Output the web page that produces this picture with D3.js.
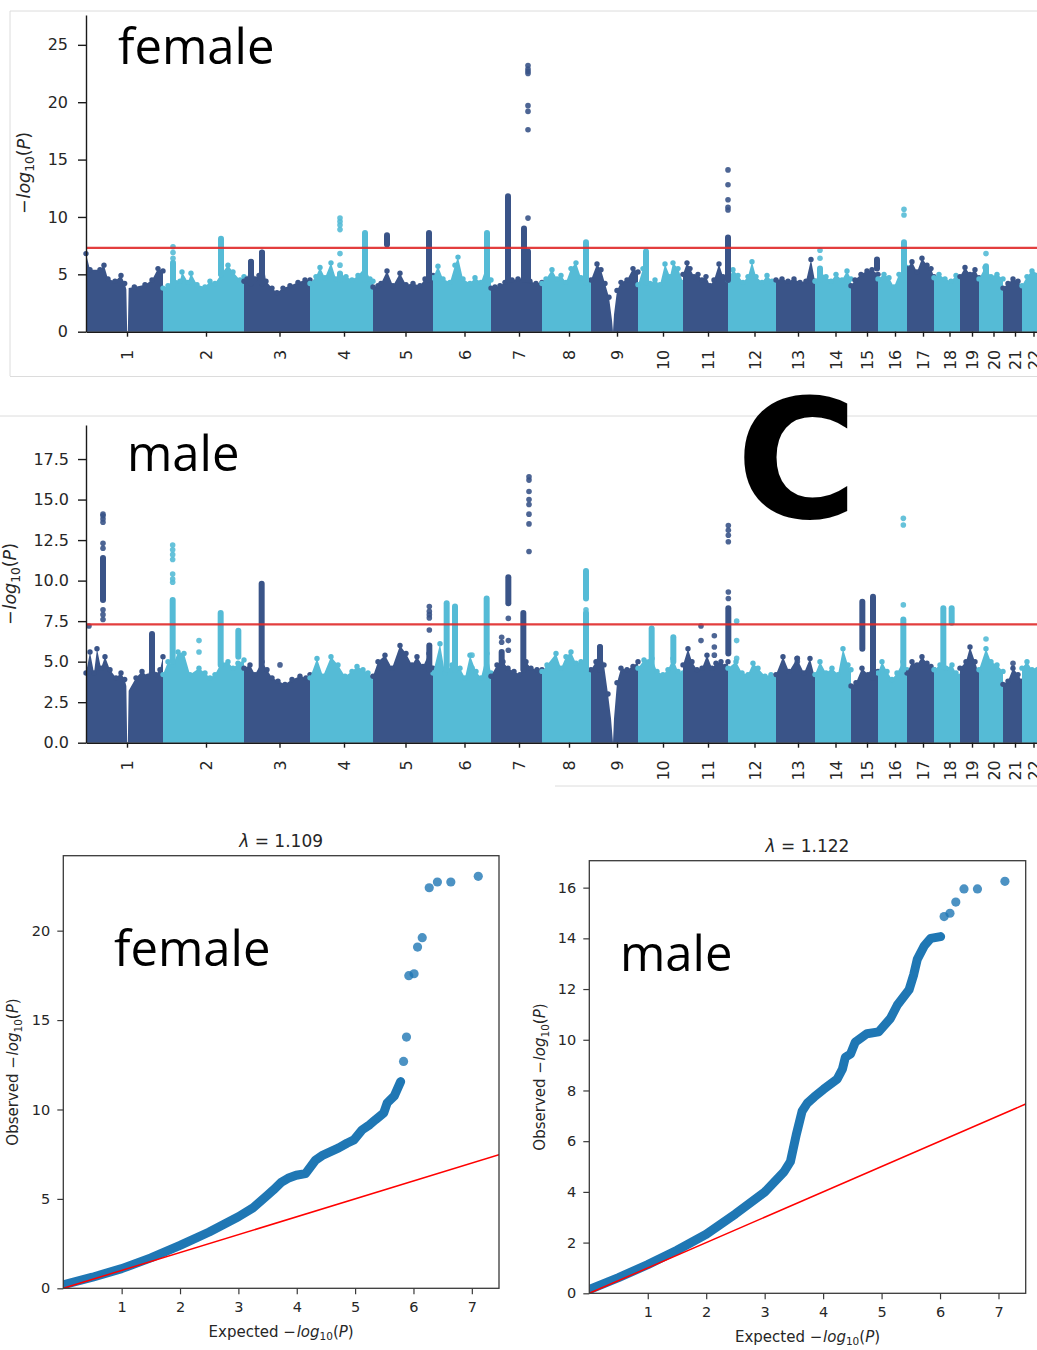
<!DOCTYPE html>
<html>
<head>
<meta charset="utf-8">
<script src="https://cdn.jsdelivr.net/npm/d3@7"></script>
<style>
body { margin: 0; background: #fff; }
svg { display: block; font-family: "DejaVu Sans", sans-serif; }
</style>
</head>
<body>
<svg id="fig" width="1037" height="1350"></svg>
<script>
// ---- data ----
const chroms = ['1','2','3','4','5','6','7','8','9','10','11','12','13','14','15','16','17','18','19','20','21','22']
// relative span of each chromosome on the x axis
const chrom_len = [231, 243, 198, 189, 180, 174, 153, 147, 141, 135, 135, 144, 117, 108, 81, 87, 81, 78, 57, 72, 57, 54]
const threshold = 7.3

// top of the dense background of points, [position in chromosome, -log10 p]
const female_band = [
  [[0,6.8],[12,5.4],[42,5.4],[54,5.8],[66,4.6],[87,4.4],[105,4.9],[116,4.2],[121,3.7],[123.5,0],[125.5,0],[128,3.8],[145,3.9],[177,4.1],[198,4.5],[216,5.5],[231,5.3]],
  [[0,3.8],[15,4.0],[30,4.6],[51,4.4],[57,5.2],[75,4.3],[84,5.1],[102,4.1],[126,3.9],[141,4.4],[156,4.2],[174,5.0],[195,5.8],[210,5.2],[231,4.5],[243,4.8]],
  [[0,4.4],[9,4.6],[21,6.1],[33,4.6],[45,4.9],[54,6.9],[66,4.4],[84,3.8],[99,3.4],[117,3.8],[138,4.0],[162,4.3],[183,4.5],[198,4.5]],
  [[0,4.2],[18,4.8],[30,5.6],[45,4.7],[63,6.0],[78,4.6],[90,5.0],[108,4.8],[126,4.5],[144,4.9],[165,5.6],[180,4.6],[189,4.4]],
  [[0,3.9],[15,4.0],[24,4.2],[42,5.3],[60,4.0],[81,5.1],[99,4.1],[120,4.2],[141,4.0],[156,4.6],[168,5.0],[180,4.9]],
  [[0,4.7],[15,5.7],[30,4.6],[51,4.3],[66,5.8],[75,6.5],[90,4.6],[111,4.2],[126,4.7],[144,4.3],[162,5.8],[174,4.5]],
  [[0,3.8],[12,3.9],[27,4.0],[42,4.3],[63,4.5],[81,4.6],[99,4.7],[117,4.4],[135,4.2],[153,4.3]],
  [[0,4.2],[12,4.6],[30,5.4],[45,4.6],[57,4.9],[72,4.3],[87,5.5],[102,6.0],[117,4.7],[132,5.0],[147,4.4]],
  [[0,4.5],[18,5.9],[30,5.4],[42,4.2],[54,3.0],[63,1.0],[66,0],[69,1.5],[78,3.6],[90,4.3],[108,4.5],[126,5.5],[141,5.2]],
  [[0,4.1],[15,5.5],[24,5.0],[36,4.2],[51,4.5],[66,4.1],[81,5.9],[96,4.8],[105,6.0],[120,5.5],[135,4.3]],
  [[0,5.0],[12,6.0],[21,5.5],[33,4.8],[45,5.0],[57,4.5],[69,4.8],[81,4.0],[93,4.5],[108,5.9],[120,4.8],[135,4.6]],
  [[0,4.5],[15,5.4],[30,4.9],[45,4.3],[60,4.8],[72,6.1],[84,4.8],[102,4.3],[117,4.9],[132,4.4],[144,4.3]],
  [[0,4.5],[18,4.6],[36,4.4],[54,4.6],[72,4.3],[90,4.4],[105,6.3],[117,4.4]],
  [[0,4.4],[15,5.2],[33,4.8],[48,4.4],[63,5.0],[81,4.5],[96,5.3],[108,4.6]],
  [[0,4.0],[12,4.5],[30,5.0],[48,5.3],[63,5.4],[81,5.0]],
  [[0,4.6],[18,5.0],[33,4.7],[48,3.9],[63,5.0],[78,5.5],[87,5.6]],
  [[0,5.5],[15,6.1],[30,5.2],[45,6.4],[60,5.8],[72,5.5],[81,4.8]],
  [[0,4.7],[15,5.0],[33,4.6],[51,4.4],[66,4.9],[78,4.6]],
  [[0,4.8],[15,5.6],[30,5.0],[45,5.4],[57,4.7]],
  [[0,4.6],[18,5.6],[36,4.8],[54,5.0],[72,4.6]],
  [[0,3.8],[15,4.2],[30,4.6],[45,4.4],[57,3.9]],
  [[0,4.0],[15,4.8],[30,5.3],[54,5.0]]
]

const male_band = [
  [[0,4.3],[12,5.6],[24,4.3],[33,5.8],[45,4.6],[57,5.3],[72,4.5],[90,4.0],[105,4.3],[116,3.9],[121,3.5],[123.5,0],[125.5,0],[128,3.2],[150,4.0],[168,4.4],[186,4.1],[198,5.2],[210,4.2],[222,4.5],[231,5.3]],
  [[0,4.2],[15,5.0],[30,4.8],[45,5.6],[63,5.5],[81,4.2],[108,4.6],[126,4.3],[141,4.0],[156,4.2],[174,4.9],[195,5.0],[210,4.6],[225,4.9],[243,5.1]],
  [[0,4.6],[18,4.8],[33,4.2],[54,5.0],[69,4.5],[84,4.0],[102,3.8],[123,3.6],[144,3.9],[168,4.1],[186,4.0],[198,4.2]],
  [[0,4.0],[21,5.2],[39,4.1],[63,5.3],[84,4.8],[105,4.1],[126,4.4],[141,4.7],[159,4.5],[174,4.3],[189,4.0]],
  [[0,4.1],[15,5.0],[36,5.4],[57,4.6],[81,6.0],[99,5.5],[117,4.8],[132,5.3],[150,4.7],[168,5.5],[180,4.6]],
  [[0,4.3],[21,6.1],[36,4.3],[57,4.8],[81,4.6],[96,4.0],[111,5.4],[129,4.4],[144,4.0],[162,5.5],[174,4.3]],
  [[0,4.1],[18,4.8],[36,5.0],[51,4.6],[69,4.4],[87,4.2],[105,5.0],[120,4.6],[138,4.5],[153,4.5]],
  [[0,4.4],[15,4.8],[42,5.5],[57,4.6],[72,5.3],[87,5.6],[102,4.9],[117,5.0],[132,5.2],[147,4.3]],
  [[0,4.5],[15,5.0],[27,5.9],[39,4.8],[51,3.0],[60,1.5],[66,0],[69,1.5],[78,3.7],[90,4.6],[108,4.5],[126,4.7],[141,5.0]],
  [[0,4.6],[18,5.1],[42,5.2],[57,4.4],[75,4.2],[90,4.5],[105,5.2],[120,4.4],[135,4.3]],
  [[0,4.8],[15,5.8],[27,5.0],[42,4.5],[57,4.6],[72,5.4],[87,4.6],[99,4.9],[114,5.0],[126,4.7],[135,5.0]],
  [[0,4.6],[24,5.0],[42,4.3],[60,4.2],[75,4.9],[90,4.6],[111,4.1],[129,4.2],[144,4.0]],
  [[0,4.2],[21,5.3],[39,4.4],[63,5.2],[84,4.3],[102,5.2],[117,4.0]],
  [[0,4.2],[15,5.0],[33,4.3],[51,4.6],[69,4.2],[84,5.8],[99,4.8],[108,4.5]],
  [[0,3.5],[15,3.7],[33,4.6],[51,4.2],[66,4.8],[81,4.4]],
  [[0,4.3],[12,5.0],[27,4.4],[42,3.9],[57,4.3],[75,5.0],[87,4.5]],
  [[0,4.3],[15,5.0],[30,4.8],[45,5.3],[60,4.9],[72,4.7],[81,4.5]],
  [[0,4.5],[18,4.8],[36,4.6],[54,4.8],[66,4.3],[78,4.1]],
  [[0,4.6],[18,5.0],[30,5.9],[45,5.0],[57,4.2]],
  [[0,4.5],[21,5.8],[36,5.0],[54,4.8],[72,4.4]],
  [[0,3.6],[15,3.8],[30,4.6],[45,4.2],[57,3.8]],
  [[0,4.6],[15,5.0],[30,4.5],[54,4.8]]
]

// signals above the background: [chromosome, position, dense from, dense to, single points]
const female_hits = [
  ['2', 30, 4.0, 6.0, [6.4, 6.9, 7.4]],
  ['2', 174, 5.0, 8.1, []],
  ['3', 21, 4.2, 6.1, []],
  ['3', 54, 4.2, 6.9, []],
  ['4', 90, 4.5, 5.0, [5.1, 5.8, 6.8, 8.9, 9.3, 9.6, 9.9]],
  ['4', 165, 4.5, 8.6, []],
  ['5', 42, 7.6, 8.4, []],
  ['5', 168, 4.5, 8.6, []],
  ['6', 162, 4.5, 8.6, []],
  ['7', 51, 4.5, 11.8, []],
  ['7', 99, 4.5, 9.0, []],
  ['7', 111, 4.5, 7.0, [9.9, 17.6, 19.2, 19.7, 22.5, 22.7, 22.9, 23.2]],
  ['8', 132, 4.3, 7.8, []],
  ['10', 24, 4.3, 7.0, []],
  ['11', 135, 4.5, 8.2, [10.6, 10.85, 11.5, 12.8, 14.1]],
  ['14', 15, 4.5, 5.5, [6.4, 7.1]],
  ['15', 78, 5.5, 6.3, []],
  ['16', 78, 4.5, 7.8, [10.17, 10.67]],
  ['20', 21, 4.8, 5.7, [6.8]]
]

const male_hits = [
  ['1', 9, null, null, [7.2]],
  ['1', 51, 8.8, 11.4, [7.6, 7.9, 8.2, 12.0, 12.3, 13.6, 13.8, 14.0, 14.1]],
  ['1', 198, 4.5, 6.7, []],
  ['2', 29, 5.0, 8.8, [9.9, 10.1, 10.4, 11.3, 11.6, 11.9, 12.2]],
  ['2', 108, null, null, [5.6, 6.3]],
  ['2', 173, 4.8, 8.0, []],
  ['2', 226, 5.3, 6.9, []],
  ['3', 53, 4.5, 9.8, []],
  ['3', 108, null, null, [4.8]],
  ['5', 169, 4.5, 6.0, [6.95, 7.7, 7.9, 8.1, 8.4]],
  ['6', 41, 4.5, 8.6, []],
  ['6', 66, 4.5, 8.4, []],
  ['6', 117, null, null, [4.6, 5.4]],
  ['6', 161, 4.5, 8.9, []],
  ['7', 32, 4.8, 5.6, [6.2, 6.5]],
  ['7', 52, 8.6, 10.2, [5.7, 6.3, 7.67]],
  ['7', 97, 4.5, 8.0, []],
  ['7', 114, null, null, [11.8, 13.5, 14.1, 14.7, 15.0, 15.5, 16.2, 16.4]],
  ['8', 132, 4.5, 8.0, [8.2]],
  ['8', 132, 8.9, 10.6, []],
  ['9', 27, 4.5, 5.9, []],
  ['10', 41, 4.7, 7.05, []],
  ['10', 106, 5.0, 6.5, []],
  ['11', 54, null, null, [6.3, 7.2]],
  ['11', 94, null, null, [5.4, 5.9, 6.6]],
  ['11', 136, 5.5, 8.3, [8.9, 9.3, 12.4, 12.8, 13.1, 13.4]],
  ['12', 26, null, null, [5.2, 6.3, 7.5]],
  ['13', 64, null, null, [5.0, 5.2]],
  ['15', 34, 5.8, 8.7, []],
  ['15', 66, 4.0, 9.0, []],
  ['16', 76, 4.5, 7.6, [8.5, 13.43, 13.84]],
  ['18', 28, 4.7, 8.3, []],
  ['18', 53, 7.4, 8.3, []],
  ['20', 21, null, null, [6.4]],
  ['21', 30, null, null, [4.9]]
]

// QQ plots: [expected, observed]
const qq_female_curve = [[0,0.2],[0.5,0.62],[1.0,1.1],[1.5,1.7],[2.0,2.4],[2.5,3.15],[3.0,4.0],[3.25,4.5],[3.49,5.18],[3.6,5.5],[3.74,5.94],[3.85,6.15],[3.99,6.32],[4.15,6.41],[4.32,7.16],[4.45,7.45],[4.58,7.64],[4.72,7.85],[4.86,8.11],[4.98,8.3],[5.12,8.86],[5.25,9.15],[5.35,9.43],[5.49,9.8],[5.55,10.37],[5.67,10.75],[5.78,11.56]]
const qq_female_top = [[5.83,12.69],[5.88,14.05],[5.92,17.48],[6.01,17.59],[6.07,19.08],[6.15,19.61],[6.27,22.4],[6.41,22.72],[6.64,22.72],[7.11,23.04]]
const qq_male_curve = [[0,0.15],[0.5,0.62],[1.0,1.13],[1.5,1.7],[2.0,2.33],[2.5,3.13],[3.0,3.99],[3.33,4.79],[3.44,5.19],[3.54,6.25],[3.64,7.18],[3.73,7.5],[3.85,7.75],[4.01,8.05],[4.24,8.45],[4.33,8.84],[4.38,9.31],[4.47,9.44],[4.55,9.91],[4.75,10.24],[4.95,10.31],[5.15,10.84],[5.27,11.37],[5.47,11.97],[5.55,12.57],[5.61,13.17],[5.73,13.7],[5.84,14.0],[6.01,14.07]]
const qq_male_top = [[6.07,14.86],[6.17,14.99],[6.27,15.43],[6.41,15.95],[6.64,15.95],[7.11,16.25]]
const lambda_female = '1.109'
const lambda_male = '1.122'

const female_yticks = [0, 5, 10, 15, 20, 25]
const male_yticks = [0, 2.5, 5, 7.5, 10, 12.5, 15, 17.5]
const qq_female_yticks = [0, 5, 10, 15, 20]
const qq_male_yticks = [0, 2, 4, 6, 8, 10, 12, 14, 16]
const qq_xticks = [1, 2, 3, 4, 5, 6, 7]

// ---- drawing ----
const dark = '#3a5488'
const light = '#55bbd6'
const ink = '#262626'
const svg = d3.select('#fig')

function math_label(sel, prefix, size) {
  if (prefix) sel.append('tspan').text(prefix)
  sel.append('tspan').text('\u2212')
  sel.append('tspan').attr('font-style', 'italic').attr('dx', size * 0.05).text('log')
  sel.append('tspan').attr('font-size', size * 0.7).attr('dy', size * 0.25).text('10')
  sel.append('tspan').attr('dy', -size * 0.25).text('(')
  sel.append('tspan').attr('font-style', 'italic').text('P')
  sel.append('tspan').text(')')
}

function chrom_color(name) {
  return chroms.indexOf(name) % 2 == 0 ? dark : light
}

function draw_manhattan(band, hits, cfg) {
  var g = svg.append('g')
  var offsets = [0]
  chrom_len.forEach(function (l, i) { offsets.push(offsets[i] + l) })
  var total = offsets[offsets.length - 1]
  var x = d3.scaleLinear().domain([0, total]).range([86, 1040])
  var y = d3.scaleLinear().domain([0, cfg.ymax]).range([cfg.bottom, cfg.top])

  band.forEach(function (pts, i) {
    var col = chrom_color(chroms[i])
    var area = d3.area()
      .x(function (d) { return x(offsets[i] + d[0]) })
      .y0(y(0))
      .y1(function (d) { return y(d[1]) })
    g.append('path').attr('d', area(pts)).attr('fill', col)
    // no dots next to the centromere gaps
    var tops = pts.filter(function (d, k) {
      var prev = pts[k - 1], next = pts[k + 1]
      return d[1] > 1 && !(prev && prev[1] < 1) && !(next && next[1] < 1)
    })
    g.selectAll(null).data(tops).enter()
      .append('circle')
      .attr('cx', function (d) { return x(offsets[i] + d[0]) })
      .attr('cy', function (d) { return y(d[1]) })
      .attr('r', 2.7)
      .attr('fill', col)
  })

  hits.forEach(function (h) {
    var i = chroms.indexOf(h[0])
    var col = chrom_color(h[0])
    var hx = x(offsets[i] + h[1])
    if (h[2] != null) {
      g.append('line')
        .attr('x1', hx).attr('x2', hx)
        .attr('y1', y(h[2])).attr('y2', y(h[3]))
        .attr('stroke', col).attr('stroke-width', 6).attr('stroke-linecap', 'round')
    }
    g.selectAll(null).data(h[4]).enter()
      .append('circle')
      .attr('cx', hx)
      .attr('cy', function (d) { return y(d) })
      .attr('r', 2.8)
      .attr('fill', col)
      .attr('opacity', 0.9)
  })

  g.append('line')
    .attr('x1', x(0)).attr('x2', x(total))
    .attr('y1', y(threshold)).attr('y2', y(threshold))
    .attr('stroke', '#e02a2a').attr('stroke-width', 2.2).attr('opacity', 0.9)

  var ya = g.append('g').attr('transform', 'translate(86,0)')
    .call(d3.axisLeft(y).tickValues(cfg.yticks).tickFormat(cfg.fmt).tickSize(8).tickPadding(cfg.ypad).tickSizeOuter(0))
  var mids = chrom_len.map(function (l, i) { return offsets[i] + l / 2 })
  var xa = g.append('g').attr('transform', 'translate(0,' + cfg.bottom + ')')
    .call(d3.axisBottom(x).tickValues(mids).tickFormat(function (d, i) { return chroms[i] }).tickSize(5).tickSizeOuter(0))
  xa.selectAll('.tick').attr('transform', function (d) { return 'translate(' + (x(d) + 3) + ',0)' })
  xa.selectAll('.tick text')
    .attr('transform', 'rotate(-90)')
    .attr('text-anchor', 'end')
    .attr('x', -cfg.xlab_off).attr('y', 0).attr('dy', '0.35em')
  ;[ya, xa].forEach(function (a) {
    a.selectAll('path, line').attr('stroke', '#1a1a1a').attr('stroke-width', 1.4)
    a.selectAll('text').attr('font-size', 16).attr('fill', ink).attr('font-family', 'DejaVu Sans')
  })

  var yl = g.append('text')
    .attr('transform', 'translate(' + cfg.ylab_x + ',' + cfg.ylab_y + ') rotate(-90)')
    .attr('text-anchor', 'middle').attr('font-size', 17.5).attr('fill', ink)
  math_label(yl, '', 17.5)

  g.append('text').attr('x', cfg.name_x).attr('y', cfg.name_y)
    .attr('font-family', 'Open Sans').attr('font-size', 49).attr('fill', '#000')
    .text(cfg.name)
}

function draw_qq(curve, top_pts, lambda, yticks, cfg) {
  var g = svg.append('g')
  var xmax = d3.max(top_pts, function (d) { return d[0] }) * 1.05
  var ymax = d3.max(top_pts, function (d) { return d[1] }) * 1.05
  var x = d3.scaleLinear().domain([0, xmax]).range([cfg.left, cfg.right])
  var y = d3.scaleLinear().domain([0, ymax]).range([cfg.bottom, cfg.top])

  var clip_id = 'clip_' + cfg.name
  g.append('clipPath').attr('id', clip_id).append('rect')
    .attr('x', cfg.left).attr('y', cfg.top)
    .attr('width', cfg.right - cfg.left).attr('height', cfg.bottom - cfg.top)
  var plot = g.append('g').attr('clip-path', 'url(#' + clip_id + ')')

  var line = d3.line().x(function (d) { return x(d[0]) }).y(function (d) { return y(d[1]) })
  plot.append('path').attr('d', line(curve))
    .attr('fill', 'none').attr('stroke', '#1f77b4').attr('stroke-width', 9)
    .attr('stroke-linecap', 'round').attr('stroke-linejoin', 'round')
  plot.selectAll(null).data(top_pts).enter().append('circle')
    .attr('cx', function (d) { return x(d[0]) })
    .attr('cy', function (d) { return y(d[1]) })
    .attr('r', 4.6).attr('fill', '#1f77b4').attr('opacity', 0.8)
  plot.append('line')
    .attr('x1', x(0)).attr('y1', y(0)).attr('x2', x(xmax)).attr('y2', y(xmax))
    .attr('stroke', '#ff0000').attr('stroke-width', 1.5)

  g.append('rect').attr('x', cfg.left).attr('y', cfg.top)
    .attr('width', cfg.right - cfg.left).attr('height', cfg.bottom - cfg.top)
    .attr('fill', 'none').attr('stroke', '#3a3a3a').attr('stroke-width', 1.3)

  var ya = g.append('g').attr('transform', 'translate(' + cfg.left + ',0)')
    .call(d3.axisLeft(y).tickValues(yticks).tickFormat(d3.format('d')).tickSize(6).tickPadding(7).tickSizeOuter(0))
  var xa = g.append('g').attr('transform', 'translate(0,' + cfg.bottom + ')')
    .call(d3.axisBottom(x).tickValues(qq_xticks).tickFormat(d3.format('d')).tickSize(6).tickPadding(7).tickSizeOuter(0))
  ;[ya, xa].forEach(function (a) {
    a.select('.domain').remove()
    a.selectAll('line').attr('stroke', '#3a3a3a').attr('stroke-width', 1.2)
    a.selectAll('text').attr('font-size', 14.5).attr('fill', ink).attr('font-family', 'DejaVu Sans')
  })

  var cx = (cfg.left + cfg.right) / 2
  var t = g.append('text').attr('x', cx).attr('y', cfg.top - 9)
    .attr('text-anchor', 'middle').attr('font-size', 17).attr('fill', ink)
  t.append('tspan').attr('font-style', 'italic').text('\u03bb')
  t.append('tspan').text(' = ' + lambda)

  var xl = g.append('text').attr('x', cx).attr('y', cfg.bottom + 48.4)
    .attr('text-anchor', 'middle').attr('font-size', 15).attr('fill', ink)
  math_label(xl, 'Expected ', 15)
  var yl = g.append('text')
    .attr('transform', 'translate(' + (cfg.left - cfg.ylab_off) + ',' + (cfg.top + cfg.bottom) / 2 + ') rotate(-90)')
    .attr('text-anchor', 'middle').attr('font-size', 15).attr('fill', ink)
  math_label(yl, 'Observed ', 15)

  g.append('text').attr('x', cfg.name_x).attr('y', cfg.name_y)
    .attr('font-family', 'Open Sans').attr('font-size', 49).attr('fill', '#000')
    .text(cfg.name)
}

// faint edges of the pasted panels
function edge(x1, y1, x2, y2) {
  svg.append('line').attr('x1', x1).attr('y1', y1).attr('x2', x2).attr('y2', y2)
    .attr('stroke', '#dcdcdc').attr('stroke-width', 1)
}
edge(10, 11, 1037, 11)
edge(10, 11, 10, 376)
edge(10, 376.5, 1037, 376.5)
edge(0, 416, 1037, 416)
edge(555, 786, 1037, 786)

draw_manhattan(female_band, female_hits, {
  top: 15, bottom: 331.7, ymax: 27.6, yticks: female_yticks, fmt: d3.format('d'), ypad: 10,
  xlab_off: 18, ylab_x: 30, ylab_y: 173, name: 'female', name_x: 118, name_y: 64
})
draw_manhattan(male_band, male_hits, {
  top: 425, bottom: 742.7, ymax: 19.6, yticks: male_yticks, fmt: d3.format('.1f'), ypad: 9,
  xlab_off: 17.5, ylab_x: 16, ylab_y: 584, name: 'male', name_x: 127, name_y: 471
})

svg.append('text').attr('x', 736).attr('y', 518)
  .attr('font-family', 'DejaVu Sans').attr('font-weight', 'bold').attr('font-size', 166)
  .attr('fill', '#000').text('C')

draw_qq(qq_female_curve, qq_female_top, lambda_female, qq_female_yticks, {
  left: 63.3, right: 499, top: 855.7, bottom: 1288.3, ylab_off: 45,
  name: 'female', name_x: 114, name_y: 966
})
draw_qq(qq_male_curve, qq_male_top, lambda_male, qq_male_yticks, {
  left: 589.3, right: 1025.7, top: 860.7, bottom: 1293.3, ylab_off: 44,
  name: 'male', name_x: 620, name_y: 971
})
</script>
</body>
</html>
